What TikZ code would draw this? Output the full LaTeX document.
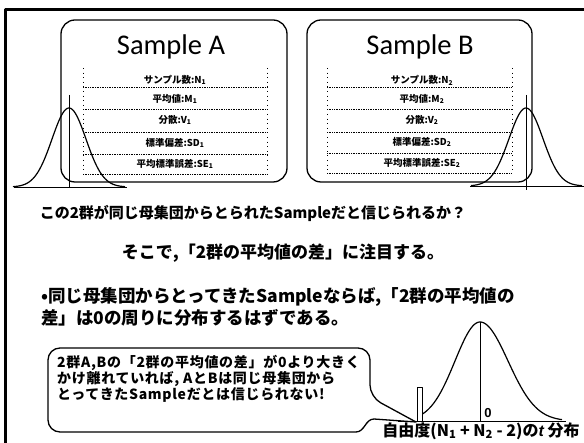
\documentclass[tikz,border=0pt]{standalone}
\usepackage{fontspec}
\setmainfont{Carlito}
\newfontfamily\jp{Noto Sans CJK JP}
\newfontfamily\jpls[LetterSpace=5]{Noto Sans CJK JP}
\newfontfamily\lsans{Liberation Sans}
\newcommand\mysub[1]{\textsubscript{#1}}
\tikzset{
  samplebox/.style={draw, line width=1.3pt, rounded corners=14pt, inner sep=0pt},
  rowline/.style={densely dotted, line width=0.7pt},
  rowedge/.style={loosely dotted, line width=0.6pt},
  rowtext/.style={font=\jp\bfseries\fontsize{9.5}{10}\selectfont, inner sep=0pt},
  title/.style={font=\fontsize{28.5}{30}\selectfont, inner sep=0pt},
  bell/.style={line width=1.2pt},
  thin axis/.style={line width=0.9pt},
  callout/.style={draw, line width=1.3pt},
  jtext/.style={inner sep=0pt},
}
\begin{document}
\begin{tikzpicture}[x=1pt,y=-1pt,line join=round]
\useasboundingbox (0,0) rectangle (584,443);
\clip (0,0) rectangle (584,443);
% outer frame
\draw[line width=3pt] (5.3,460) -- (5.3,9.3) -- (600,9.3);

% ---- Sample A ----
\node[samplebox, minimum width=226pt, minimum height=162pt] (boxA) at (174,101) {};
\node[title] (titleA) at (171,47) {Sample A};
\foreach \yy in {87,109,132,154,174} \draw[rowline] (83,\yy) -- (267,\yy);
\draw[rowedge] (267,68) -- (267,174);
\draw[rowedge] (83,68) -- (83,174);
\node[rowtext] (a1) at (175,80) {サンプル数:N\mysub{1}};
\node[rowtext] (a2) at (175,99) {平均値:M\mysub{1}};
\node[rowtext] (a3) at (175,120) {分散:V\mysub{1}};
\node[rowtext] (a4) at (175,143) {標準偏差:SD\mysub{1}};
\node[rowtext] (a5) at (175,164) {平均標準誤差:SE\mysub{1}};
% bell A
\draw[bell] plot[domain=-56:56, samples=80] ({69+\x}, {187-79*exp(-(\x*\x)/(2*17*17))});
\draw[thin axis] (14,187.5) -- (127,187.5);
\draw[thin axis] (69,95) -- (69,188);

% ---- Sample B ----
\node[samplebox, minimum width=225pt, minimum height=162pt] (boxB) at (419.5,101) {};
\node[title] (titleB) at (420,47) {Sample B};
\foreach \yy in {87,109,132,153,173} \draw[rowline] (327,\yy) -- (512,\yy);
\draw[rowedge] (512,68) -- (512,173);
\draw[rowedge] (327,68) -- (327,173);
\node[rowtext] (b1) at (422,80) {サンプル数:N\mysub{2}};
\node[rowtext] (b2) at (422,99) {平均値:M\mysub{2}};
\node[rowtext] (b3) at (422,120) {分散:V\mysub{2}};
\node[rowtext] (b4) at (422,142) {標準偏差:SD\mysub{2}};
\node[rowtext] (b5) at (422,163) {平均標準誤差:SE\mysub{2}};
% bell B
\draw[bell] plot[domain=-55:56, samples=80] ({526+\x}, {186-78*exp(-(\x*\x)/(2*17*17))});
\draw[thin axis] (470,186.5) -- (584,186.5);
\draw[thin axis] (526,95) -- (526,190);

% ---- texts ----
\node[jtext, font=\jp\bfseries\fontsize{15}{15}\selectfont] (q1) at (253,213) {この2群が同じ母集団からとられたSampleだと信じられるか？};
\node[jtext, font=\jp\bfseries\fontsize{17}{17}\selectfont] (q2) at (283,253) {そこで,「2群の平均値の差」に注目する。};
\node[jtext, anchor=west, font=\jp\bfseries\fontsize{17.5}{17.5}\selectfont] (p1) at (41,297) {•同じ母集団からとってきたSampleならば,「2群の平均値の};
\node[jtext, anchor=west, font=\jp\bfseries\fontsize{17.5}{17.5}\selectfont] (p2) at (41,318) {差」は0の周りに分布するはずである。};

% ---- t distribution ----
\draw[bell] plot[domain=-62:0, samples=50] ({480+\x}, {421-99*exp(-(\x*\x)/(2*25*25))});
\draw[bell] plot[domain=0:82, samples=60] ({480+\x}, {421-99*exp(-(\x*\x)/(2*28*28))});
\draw[thin axis] (398,421) -- (566,421);
\draw[thin axis] (480,322) -- (480,421);
\draw[line width=0.9pt, fill=white] (417,421) -- (417,387) -- (422,387) -- (422,421);
\node[inner sep=0pt, font=\lsans\bfseries\fontsize{13}{13}\selectfont] (zero) at (488,413) {0};
\node[jtext, font=\jp\bfseries\fontsize{16}{16}\selectfont] (tlabel) at (481,431) {自由度(N\mysub{1} + N\mysub{2} - 2)の{\lsans\itshape t} 分布};

% ---- callout ----
\draw[callout, fill=white] (48,390) [rounded corners=12pt] -- (48,348) -- (370,348) -- (370,397) [sharp corners] -- (416,422) -- (374,419) to[out=180,in=0] (356,432) [rounded corners=12pt] -- (48,432) -- cycle;
\node[jtext, anchor=north west, align=left, font=\jpls\bfseries\fontsize{14}{14.8}\selectfont] (note) at (57,355) {2群A,Bの「2群の平均値の差」が0より大きく\\かけ離れていれば, AとBは同じ母集団から\\とってきたSampleだとは信じられない!};
\end{tikzpicture}
\end{document}
